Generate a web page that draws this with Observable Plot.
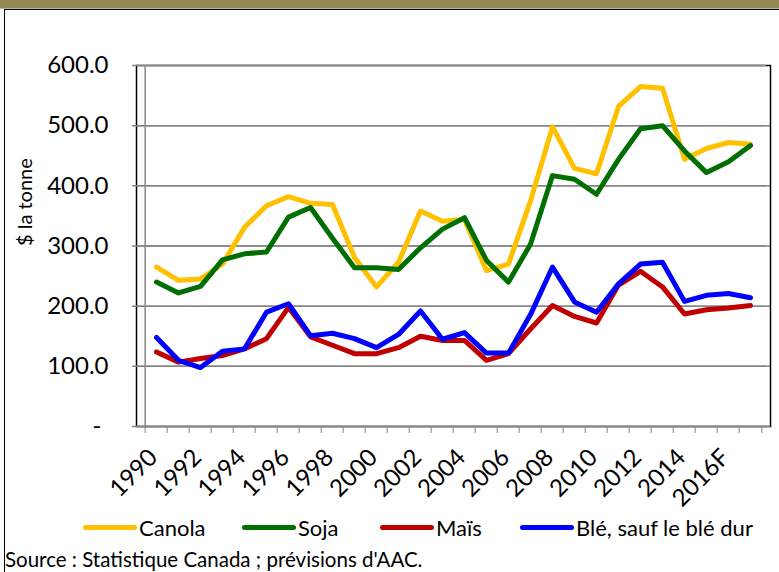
<!DOCTYPE html>
<html>
<head>
<meta charset="utf-8">
<script src="https://cdn.jsdelivr.net/npm/d3@7"></script>
<script src="https://cdn.jsdelivr.net/npm/@observablehq/plot@0.6"></script>
<style>
  html, body { margin:0; padding:0; background:#fff; }
  body { width:779px; height:572px; position:relative; overflow:hidden; font-family: Lato, "DejaVu Sans", sans-serif; }
  #band { position:absolute; left:0; top:0; width:779px; height:8px; background:#948B54; border-bottom:1px solid #b5b5b5; }
  #box { position:absolute; left:4px; top:9px; width:800px; height:600px; border-left:1px solid #000; border-top:1px solid #000; }
  #chart { position:absolute; left:5px; top:10px; }
  #chart svg text { font-weight: 400; }
  #legend { position:absolute; top:514px; left:0; width:779px; height:26px; font-size:22px; }
  .item { position:absolute; top:0; display:flex; align-items:center; height:26px; }
  .sw { width:54px; height:5px; border-radius:3px; margin-right:2px; }
  #source { position:absolute; left:5px; top:547px; font-size:20.5px; white-space:nowrap; }
</style>
</head>
<body>
<div id="band"></div>
<div id="box"></div>
<div id="chart"></div>
<div id="legend"></div>
<div id="source">Source : Statistique Canada ; prévisions d'AAC.</div>
<script>
const years = ["1990","1991","1992","1993","1994","1995","1996","1997","1998","1999","2000","2001","2002","2003","2004","2005","2006","2007","2008","2009","2010","2011","2012","2013","2014","2015","2016F","2017F"];
const canola = [265,243,245,270,331,367,382,371,369,281,232,273,358,341,344,259,270,375,498,429,420,532,565,562,444,462,472,469];
const soja   = [240,222,233,277,287,290,348,364,313,264,264,261,297,328,347,276,240,303,417,411,386,444,495,500,458,422,440,467];
const mais   = [124,107,113,118,129,146,198,149,135,121,121,131,150,143,143,110,121,162,201,183,172,235,258,232,187,194,197,201];
const ble    = [148,110, 98,125,129,190,204,151,155,146,131,153,192,145,156,122,122,186,265,207,190,237,270,273,208,218,221,214];
const yTicks = [0,100,200,300,400,500,600];
const seriesNames = ["Canola","Soja","Maïs","Blé, sauf le blé dur"];
const seriesValues = [canola, soja, mais, ble];
const seriesColors = ["#FFC000","#006E00","#C00000","#0000FF"];

const W = 774, H = 500, mL = 131, mR = 9, mT = 55, mB = 84;
const step = (W - mL - mR) / years.length;
const gray = "#868686";

const lineMarks = seriesValues.map((vals, i) =>
  Plot.line(years.map((y, j) => ({year: y, value: vals[j]})), {
    x: "year", y: "value", stroke: seriesColors[i], strokeWidth: 5,
    strokeLinejoin: "round", strokeLinecap: "round"
  })
);

const chart = Plot.plot({
  width: W, height: H, marginLeft: mL, marginRight: mR, marginTop: mT, marginBottom: mB,
  style: {fontFamily: "Lato, 'DejaVu Sans', sans-serif", fontSize: "24px", fontWeight: "normal", color: "#000", background: "transparent", overflow: "visible"},
  x: {type: "point", domain: years, padding: 0.5},
  y: {domain: [0, 600]},
  marks: [
    Plot.gridY(yTicks.filter(v => v > 0 && v < 600), {stroke: gray, strokeOpacity: 1, strokeWidth: 1.5}),
    Plot.frame({stroke: "#000", strokeWidth: 1.5}),
    Plot.ruleY([0], {stroke: gray, strokeWidth: 1.5}),
    Plot.ruleX([years[0]], {dx: -step / 2, stroke: gray, strokeWidth: 1.5}),
    Plot.tickY(yTicks, {y: d => d, frameAnchor: "left", dx: -4, stroke: gray, strokeWidth: 1.5, inset: 0}),
    Plot.axisY({ticks: yTicks.filter(v => v > 0), tickSize: 0, tickPadding: 28, tickFormat: d => d.toFixed(1), fontWeight: 400, textStroke: "none", label: null}),
    Plot.axisY({ticks: [0], tickSize: 0, tickPadding: 35, tickFormat: () => "-", fontWeight: 400, label: null}),
    Plot.axisX({ticks: years, tickSize: 7, tickFormat: () => "", dx: -step / 2, stroke: gray, label: null}),
    Plot.axisX({ticks: [years[years.length - 1]], tickSize: 7, tickFormat: () => "", dx: step / 2, stroke: gray, label: null}),
    Plot.axisX({ticks: years.filter((d, i) => i % 2 === 0 && i < years.length - 1), tickSize: 0, tickRotate: -45, tickPadding: 10, dx: -3, dy: 17, fontWeight: 400, textStroke: "none", label: null}),
    Plot.text(["$ la tonne"], {frameAnchor: "left", rotate: -90, dx: -111, text: d => d, fontSize: 20}),
    ...lineMarks
  ]
});
document.getElementById("chart").appendChild(chart);

const legendLefts = [83, 242, 380, 520];
const legend = document.getElementById("legend");
seriesNames.forEach((name, i) => {
  const it = document.createElement("div");
  it.className = "item";
  it.style.left = legendLefts[i] + "px";
  const sw = document.createElement("div");
  sw.className = "sw";
  sw.style.background = seriesColors[i];
  const tx = document.createElement("span");
  tx.textContent = name;
  it.appendChild(sw); it.appendChild(tx);
  legend.appendChild(it);
});
</script>
</body>
</html>
